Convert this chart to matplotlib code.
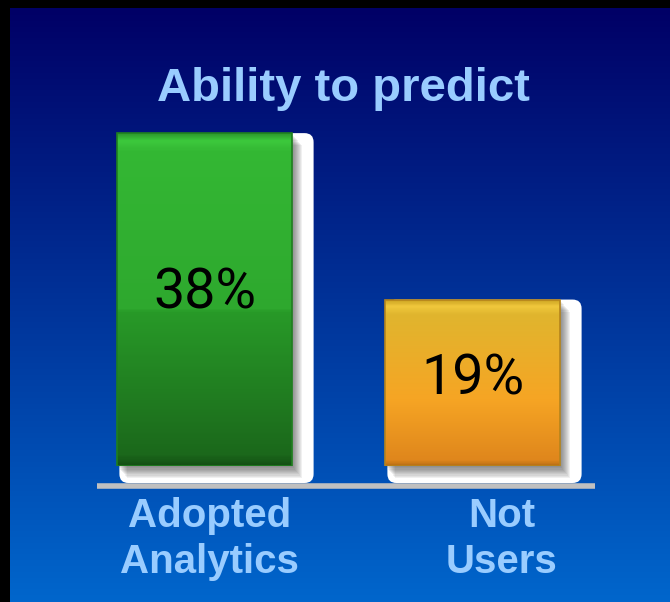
import numpy as np
import matplotlib.pyplot as plt
import matplotlib.transforms as mtransforms
from matplotlib.colors import LinearSegmentedColormap
from matplotlib.patches import FancyBboxPatch, Rectangle

# Data
categories = ['Adopted\nAnalytics', 'Not\nUsers']
values = [38, 19]
value_labels = ['38%', '19%']
title = 'Ability to predict'

# colours
bar_cmaps = [
    LinearSegmentedColormap.from_list('green', [
        (0.0, '#2f9e2f'), (0.02, '#3cc83c'), (0.05, '#34b834'),
        (0.53, '#2ea82e'), (0.535, '#289a28'), (0.97, '#1b681b'), (1.0, '#145014')]),
    LinearSegmentedColormap.from_list('orange', [
        (0.0, '#c9a020'), (0.04, '#f0c83c'), (0.09, '#e0b52e'),
        (0.6, '#f6a524'), (0.97, '#df861c'), (1.0, '#b86e14')]),
]
edge_colors = ['#1f7f1f', '#b5841c']
text_blue = '#99ccff'

W, H = 670, 602
fig = plt.figure(figsize=(W / 100, H / 100), dpi=100)
fig.patch.set_facecolor('black')

# blue gradient background (black edge on top and left)
bg = fig.add_axes([10 / W, 0, 660 / W, 594 / H])
bg_cmap = LinearSegmentedColormap.from_list('bg', ['#000066', '#0066cc'])
bg.imshow(np.linspace(0, 1, 256).reshape(-1, 1), aspect='auto', cmap=bg_cmap,
          extent=[0, 1, 0, 1], origin='upper')
bg.axis('off')

# plot area
ax_left, ax_bottom, ax_w, ax_h = 43.7, 136, 589.6, 350.4
ax = fig.add_axes([ax_left / W, ax_bottom / H, ax_w / W, ax_h / H])
ax.set_xlim(-0.6, 1.6)
ax.set_ylim(0, 40)
ax.axis('off')
ux = 2.2 / ax_w     # data units per pixel
uy = 40 / ax_h

x = np.arange(len(values))
bars = ax.bar(x, values, width=0.65, color='none', edgecolor='none', zorder=3)

for i, b in enumerate(bars):
    bx, bw, bh = b.get_x(), b.get_width(), b.get_height()
    # white drop shadow
    sh = FancyBboxPatch((bx + 2 * ux, -17 * uy), bw + 20 * ux, bh + 17 * uy,
                        boxstyle=f'round,pad=0,rounding_size={9 * ux}',
                        mutation_aspect=uy / ux, fc='white', ec='none',
                        zorder=1, clip_on=False)
    ax.add_patch(sh)
    for k in range(1, 11):
        ax.add_patch(Rectangle((bx + k * ux, -k * 1.2 * uy), bw, bh,
                               fc='#303030', ec='none', alpha=0.07, zorder=2,
                               clip_on=False))
    # gradient fill
    grad = np.linspace(0, 1, 300).reshape(-1, 1)
    im = ax.imshow(grad, aspect='auto', cmap=bar_cmaps[i], origin='upper',
                   extent=[bx, bx + bw, 0, bh], zorder=3)
    im.set_clip_path(b)
    ax.add_patch(Rectangle((bx, 0), bw, bh, fc='none', ec=edge_colors[i],
                           lw=1.2, zorder=4))
    ax.text(x[i], values[i] * 0.52, value_labels[i], ha='center', va='center',
            fontsize=40, family='Roboto', color='black', zorder=6)

ax.set_xlim(-0.6, 1.6)
ax.set_ylim(0, 40)

# base line
ax.plot([-0.401, 1.457], [-20 * uy, -20 * uy], color='#c0c0c0', lw=4,
        solid_capstyle='butt', clip_on=False, zorder=5)

# category labels
label_shift = [0.02, 0.11]
trans = mtransforms.blended_transform_factory(ax.transData, fig.transFigure)
for i, cat in enumerate(categories):
    ax.text(x[i] + label_shift[i], 1 - 497 / H, cat, transform=trans,
            ha='center', va='top', fontsize=29, weight='bold',
            family='Liberation Sans', color=text_blue, linespacing=1.28)

fig.text(343 / W, 1 - 101 / H, title, ha='center', va='baseline', fontsize=34,
         weight='bold', family='Liberation Sans', color=text_blue)

fig.savefig('out.png', dpi=100, facecolor=fig.get_facecolor())
